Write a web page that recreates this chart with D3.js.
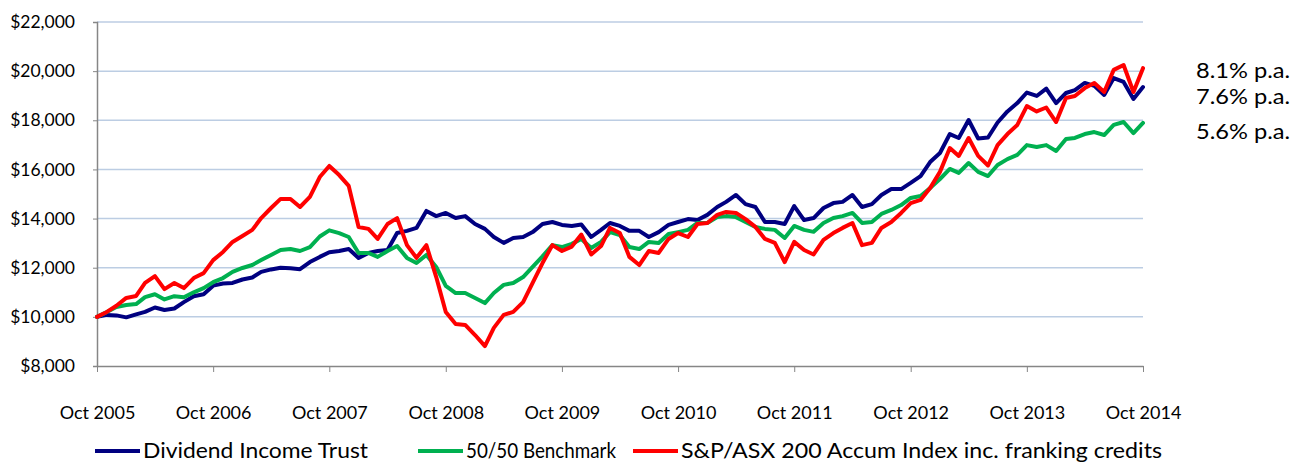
<!doctype html>
<html>
<head>
<meta charset="utf-8">
<title>Growth of $10,000</title>
<style>
  body { margin: 0; background: #fff; }
  svg text { font-family: Lato, "Open Sans", sans-serif; fill: #000; }
</style>
</head>
<body>
<div id="chart"></div>
<script src="https://cdn.jsdelivr.net/npm/d3@7"></script>
<script>
// monthly values, Oct 2005 .. Oct 2014 (growth of $10,000)
var dividendTrust = [
  10000, 10080, 10060, 9980, 10100, 10200, 10380, 10280, 10340, 10600, 10840, 10920,
  11270, 11360, 11380, 11520, 11600, 11830, 11930, 12000, 11980, 11940, 12230, 12440,
  12630, 12680, 12760, 12400, 12600, 12680, 12720, 13410, 13500, 13620, 14310, 14100,
  14230, 14020, 14100, 13780, 13580, 13250, 13010, 13210, 13250, 13450, 13780, 13860,
  13740, 13700, 13760, 13250, 13540, 13820, 13700, 13500, 13500, 13250, 13450, 13740,
  13860, 13980, 13940, 14150, 14470, 14680, 14960, 14590, 14470, 13860, 13860, 13780,
  14510, 13940, 14020, 14430, 14630, 14680, 14960, 14470, 14590, 14960, 15200, 15200,
  15450, 15730, 16300, 16670, 17440, 17280, 18010, 17260, 17300, 17910, 18360, 18700,
  19130, 18990, 19290, 18700, 19110, 19230, 19520, 19400, 19030, 19720, 19560, 18870,
  19350
];
var benchmark = [
  10000, 10200, 10400, 10480, 10520, 10800, 10920, 10710, 10840, 10800, 11000, 11170,
  11410, 11580, 11830, 11990, 12110, 12310, 12520, 12720, 12760, 12680, 12840, 13270,
  13520, 13410, 13250, 12600, 12600, 12440, 12680, 12880, 12400, 12190, 12520, 12030,
  11260, 10970, 10970, 10770, 10560, 10970, 11300, 11380, 11620, 12030, 12460, 12920,
  12840, 12970, 13170, 12800, 13050, 13450, 13330, 12840, 12760, 13050, 13010, 13370,
  13450, 13540, 13820, 13820, 14060, 14100, 14060, 13860, 13660, 13580, 13540, 13210,
  13700, 13540, 13460, 13820, 14020, 14100, 14230, 13820, 13860, 14190, 14350, 14550,
  14840, 14920, 15240, 15610, 16020, 15860, 16260, 15900, 15730, 16180, 16420, 16590,
  16990, 16910, 16990, 16750, 17240, 17280, 17440, 17520, 17400, 17810, 17930, 17480,
  17890
];
var asx200 = [
  10000, 10200, 10450, 10770, 10850, 11380, 11660, 11130, 11380, 11170, 11580, 11780,
  12310, 12640, 13050, 13290, 13540, 14020, 14430, 14800, 14800, 14470, 14880, 15690,
  16140, 15770, 15330, 13660, 13580, 13170, 13780, 14020, 12920, 12400, 12920, 11620,
  10200, 9710, 9670, 9260, 8810, 9550, 10080, 10200, 10600, 11380, 12190, 12920,
  12680, 12860, 13350, 12540, 12880, 13620, 13410, 12440, 12110, 12680, 12600, 13170,
  13410, 13250, 13780, 13820, 14150, 14270, 14230, 13980, 13660, 13170, 13010, 12230,
  13050, 12720, 12540, 13130, 13410, 13620, 13820, 12920, 13010, 13620, 13860, 14230,
  14630, 14760, 15240, 15900, 16870, 16550, 17280, 16550, 16160, 16990, 17440, 17810,
  18580, 18360, 18520, 17930, 18910, 18990, 19310, 19520, 19150, 20050, 20250, 19150,
  20120
];
var seriesNames = ["Dividend Income Trust", "50/50 Benchmark", "S&P/ASX 200 Accum Index inc. franking credits"];
var tickLabels = ["Oct 2005", "Oct 2006", "Oct 2007", "Oct 2008", "Oct 2009",
                  "Oct 2010", "Oct 2011", "Oct 2012", "Oct 2013", "Oct 2014"];
var yTicks = [8000, 10000, 12000, 14000, 16000, 18000, 20000, 22000];
var paLabels = ["8.1% p.a.", "7.6% p.a.", "5.6% p.a."];

var W = 1304, H = 464;
var colors = ["#000080", "#00b050", "#ff0000"];

var svg = d3.select("#chart").append("svg")
  .attr("width", W).attr("height", H);

var parseMonth = d3.timeParse("%b %Y");
var start = parseMonth(tickLabels[0]);
var months = dividendTrust.map(function(d, i) { return d3.timeMonth.offset(start, i); });

var x = d3.scaleTime()
  .domain([months[0], months[months.length - 1]])
  .range([97, 1143]);
var y = d3.scaleLinear().domain([8000, 22000]).range([366, 22]);

// gridlines
svg.append("g")
  .selectAll("line")
  .data(yTicks.slice(1))
  .enter().append("line")
  .attr("x1", 97).attr("x2", 1143)
  .attr("y1", function(d) { return y(d); })
  .attr("y2", function(d) { return y(d); })
  .attr("stroke", "#bccde3")
  .attr("stroke-width", 1.5);

// y axis
var yAxis = svg.append("g")
  .attr("transform", "translate(97,0)")
  .call(d3.axisLeft(y).tickValues(yTicks).tickSize(4).tickPadding(18)
    .tickFormat(function(d) { return "$" + d3.format(",")(d); }));
yAxis.select(".domain").attr("stroke", "#868686").attr("stroke-width", 1.5);
yAxis.selectAll(".tick line").attr("stroke", "#868686");
yAxis.selectAll("text").style("font-size", "17.5px");

// x axis
var xTickDates = tickLabels.map(function(t) { return parseMonth(t); });
var xAxis = svg.append("g")
  .attr("transform", "translate(0,366)")
  .call(d3.axisBottom(x).tickValues(xTickDates).tickSize(6).tickSizeOuter(0).tickPadding(34)
    .tickFormat(function(d, i) { return tickLabels[i]; }));
xAxis.select(".domain").attr("stroke", "#868686").attr("stroke-width", 1.5);
xAxis.selectAll(".tick line").attr("stroke", "#868686");
xAxis.selectAll("text").style("font-size", "18px");

// lines
var line = d3.line()
  .x(function(d, i) { return x(months[i]); })
  .y(function(d) { return y(d); });

var allSeries = [dividendTrust, benchmark, asx200];
svg.append("g")
  .selectAll("path")
  .data(allSeries)
  .enter().append("path")
  .attr("d", line)
  .attr("fill", "none")
  .attr("stroke", function(d, i) { return colors[i]; })
  .attr("stroke-width", 4)
  .attr("stroke-linejoin", "round")
  .attr("stroke-linecap", "round");

// p.a. labels at right
var paY = [71, 97, 132];
svg.append("g")
  .selectAll("text")
  .data(paLabels)
  .enter().append("text")
  .attr("x", 1196)
  .attr("y", function(d, i) { return paY[i]; })
  .attr("dy", "0.35em")
  .attr("textLength", 94)
  .attr("lengthAdjust", "spacingAndGlyphs")
  .style("font-size", "20.5px")
  .text(function(d) { return d; });

// legend
var legendX = [95, 418, 633];
var legendW = [225, 150, 481];
var leg = svg.append("g").selectAll("g")
  .data(seriesNames)
  .enter().append("g")
  .attr("transform", function(d, i) { return "translate(" + legendX[i] + ",451)"; });
leg.append("line")
  .attr("x1", 0).attr("x2", 45)
  .attr("stroke", function(d, i) { return colors[i]; })
  .attr("stroke-width", 4);
leg.append("text")
  .attr("x", 48)
  .attr("dy", "0.35em")
  .attr("textLength", function(d, i) { return legendW[i]; })
  .attr("lengthAdjust", "spacingAndGlyphs")
  .style("font-size", "20.5px")
  .text(function(d) { return d; });
</script>
</body>
</html>
